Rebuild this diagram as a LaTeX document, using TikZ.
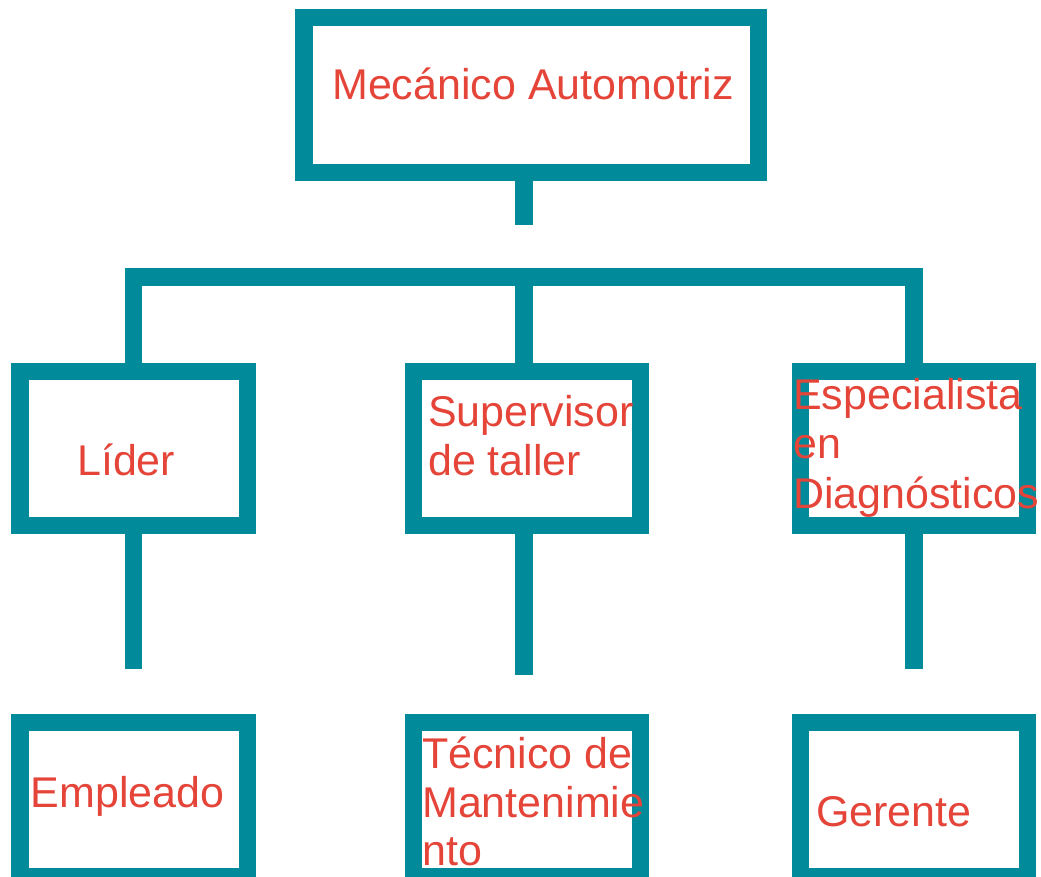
\documentclass[tikz,border=0pt]{standalone}
\usepackage{fontspec}
\setmainfont{Liberation Sans}

\definecolor{orgteal}{RGB}{0,138,154}
\definecolor{orgred}{RGB}{229,68,57}

\begin{document}
\begin{tikzpicture}[x=1pt,y=-1pt,
  caja/.style={draw=orgteal,line width=17.4pt,minimum width=227.2pt,minimum height=154.2pt,inner sep=0pt},
  linea/.style={draw=orgteal,line width=17.4pt,line join=miter},
  rotulo/.style={anchor=base west,inner sep=0pt,text=orgred,align=left,
    font=\fontsize{43pt}{49.5pt}\selectfont}]
\useasboundingbox (0,0) rectangle (1041,877);
% cargo principal
\node[caja,minimum width=454.6pt,minimum height=154.6pt] (mecanico) at (531.3,95) {};
% segundo nivel
\node[caja] (lider) at (133.7,448.5) {};
\node[caja] (supervisor) at (527,448.5) {};
\node[caja] (especialista) at (913.9,448.5) {};
% tercer nivel
\node[caja] (empleado) at (133.7,799.3) {};
\node[caja] (tecnico) at (527,799.3) {};
\node[caja] (gerente) at (913.9,799.3) {};
% conectores
\coordinate (barra) at (523.9,277);
\coordinate (cola) at (523.9,225.3);
\coordinate (finL) at (133.7,669.3);
\coordinate (finM) at (523.9,675);
\coordinate (finR) at (913.9,669.3);
\draw[linea] (mecanico.south -| cola) -- (cola);
\draw[linea] (lider.north) |- (barra) -| (especialista.north);
\draw[linea] (barra) -- (supervisor.north -| barra);
\draw[linea] (lider.south) -- (finL);
\draw[linea] (supervisor.south -| finM) -- (finM);
\draw[linea] (especialista.south) -- (finR);
% textos (base = ultima linea)
\node[rotulo] (t-mecanico) at (332,100) {Mecánico Automotriz};
\node[rotulo] (t-lider) at (77,475) {Líder};
\node[rotulo] (t-supervisor) at (428,475.7) {Supervisor\\de taller};
\node[rotulo] (t-especialista) at (793,508.3) {Especialista\\en\\Diagnósticos};
\node[rotulo] (t-empleado) at (30.5,807.3) {Empleado};
\node[rotulo,font=\fontsize{43pt}{48.7pt}\selectfont] (t-tecnico) at (422,865.7) {Técnico de\\Mantenimie\\nto};
\node[rotulo] (t-gerente) at (816,826.7) {Gerente};
\end{tikzpicture}
\end{document}
